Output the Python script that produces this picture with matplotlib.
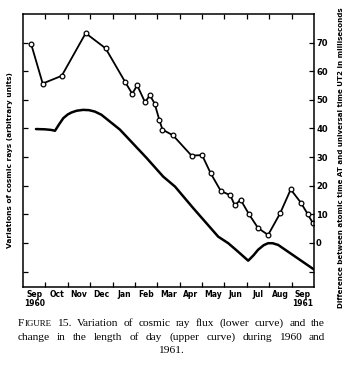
import numpy as np
import matplotlib.pyplot as plt

# months counted from 1 Sep 1960 (tick = start of month)
months = ['Sep', 'Oct', 'Nov', 'Dec', 'Jan', 'Feb', 'Mar', 'Apr', 'May', 'Jun', 'Jul', 'Aug', 'Sep']
years = {0: '1960', 12: '1961'}

# upper curve: AT - UT2 difference (ms)
lod_t = [0.36, 0.88, 1.73, 2.80, 3.69, 4.56, 4.88, 5.10, 5.45, 5.67, 5.88, 6.09, 6.23,
         6.70, 7.53, 8.00, 8.38, 8.84, 9.26, 9.46, 9.72, 10.09, 10.50, 10.95, 11.49,
         11.96, 12.41, 12.71, 12.95]
lod_v = [69.6, 55.7, 58.4, 73.3, 68.0, 56.3, 52.1, 55.1, 49.2, 51.6, 48.7, 43.0, 39.6,
         37.6, 30.5, 30.7, 24.4, 18.1, 16.7, 13.1, 15.1, 10.1, 5.2, 2.8, 10.4,
         18.7, 14.1, 10.2, 6.9]

# lower curve: cosmic ray flux (arbitrary units, drawn on same scale)
cr_t = [0.58, 0.98, 1.25, 1.43, 1.60, 1.80, 2.00, 2.17, 2.40, 2.69, 2.95, 3.21, 3.50,
        3.74, 4.33, 5.52, 6.26, 6.79, 7.60, 8.72, 9.17, 9.60, 10.06, 10.30, 10.50,
        10.75, 10.95, 11.15, 11.40, 13.04]
cr_v = [39.8, 39.7, 39.5, 39.2, 41.3, 43.6, 44.9, 45.6, 46.2, 46.5, 46.4, 45.9, 44.8,
        43.3, 39.6, 29.7, 23.2, 19.7, 12.2, 2.2, -0.1, -3.0, -6.2, -4.3, -2.4,
        -0.8, -0.1, -0.1, -0.7, -9.5]

fig = plt.figure(figsize=(3.5, 3.66), dpi=100)
ax = fig.add_axes([23/350, 1-287/366, 291/350, 273/366])

ax.plot(cr_t, cr_v, color='black', lw=1.8, solid_joinstyle='round', solid_capstyle='round')
ax.plot(lod_t, lod_v, color='black', lw=1.3, marker='o', ms=3.4,
        mfc='white', mec='black', mew=0.9)

ax.set_xlim(0, 13)
ax.set_ylim(-15.4, 80)
for s in ax.spines.values():
    s.set_linewidth(1.1)

ax.set_xticks(range(1, 13))
ax.set_xticklabels([])
ax.set_xticks(np.arange(0.5, 13, 1), minor=True)
ax.set_xticklabels([m + ('\n' + years[i] if i in years else '') for i, m in enumerate(months)],
                   minor=True, fontsize=5.5, fontweight='bold', linespacing=0.95)
ax.tick_params(axis='x', which='major', direction='in', top=True, length=3.5, width=0.9)
ax.tick_params(axis='x', which='minor', length=0, pad=2.5)

yt = list(range(-10, 80, 10))
ax.set_yticks(yt)
ax.set_yticklabels(['' if v < 0 else str(v) for v in yt], fontsize=6, fontweight='bold')
ax.tick_params(axis='y', direction='in', left=True, right=True, labelleft=False,
               labelright=True, length=3.5, width=0.9, pad=1.5)

fig.text(10/350, 1-160/366, 'Variations of cosmic rays (arbitrary units)', rotation=90,
         ha='center', va='center', fontsize=5.3, fontweight='bold')
fig.text(341/350, 1-158/366,
         'Difference between atomic time AT and universal time UT2 in milliseconds',
         rotation=90, ha='center', va='center', fontsize=5.1, fontweight='bold')

# caption, justified like the printed page
cap_font = dict(family='Liberation Serif', fontsize=8.2)
cap_lines = [
    [['F', 'IGURE'], ['15.'], ['Variation'], ['of'], ['cosmic'], ['ray'], ['flux'], ['(lower'],
     ['curve)'], ['and'], ['the']],
    [['change'], ['in'], ['the'], ['length'], ['of'], ['day'], ['(upper'], ['curve)'],
     ['during'], ['1960'], ['and']],
]
x0, x1 = 18, 325
ys = [323, 337]
fig.canvas.draw()
r = fig.canvas.get_renderer()
for line, yp in zip(cap_lines, ys):
    words = []
    for w in line:
        parts = []
        for k, p in enumerate(w):
            fs = cap_font['fontsize'] * (0.78 if (len(w) > 1 and k > 0) else 1)
            t = fig.text(0, 1-yp/366, p, family=cap_font['family'], fontsize=fs,
                         va='baseline', ha='left', transform=None)
            parts.append(t)
        words.append(parts)
    fig.canvas.draw()
    widths = [[t.get_window_extent(r).width for t in parts] for parts in words]
    total = sum(sum(w) for w in widths)
    gap = (x1 - x0 - total) / (len(words) - 1)
    x = x0
    for parts, wl in zip(words, widths):
        for t, wd in zip(parts, wl):
            t.set_transform(fig.transFigure)
            t.set_position((x/350, 1-(yp+3)/366))
            x += wd
        x += gap
fig.text(171/350, 1-(350+3)/366, '1961.', ha='center', va='baseline', **cap_font)

fig.savefig('out.png', dpi=100)
